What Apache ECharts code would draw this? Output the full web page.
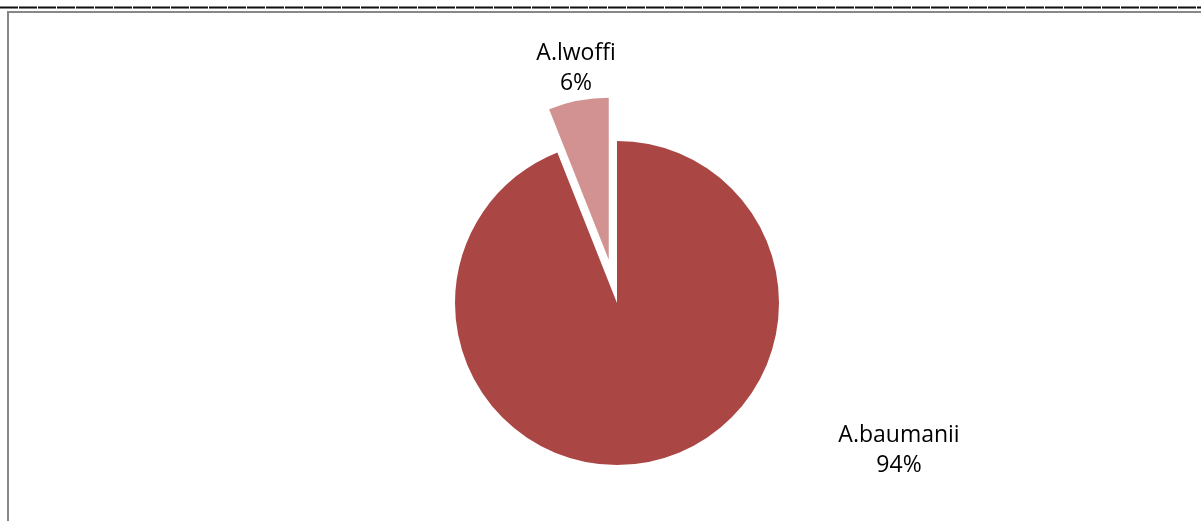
<!DOCTYPE html>
<html><head><meta charset="utf-8">
<script src="https://cdn.jsdelivr.net/npm/echarts@6/dist/echarts.min.js"></script>
<style>html,body{margin:0;padding:0;background:#fff}#c{width:1201px;height:521px}</style>
</head><body><div id="c"></div>
<script>
const categories = ['A.baumanii', 'A.lwoffi'];
const values = [94, 6];
const colors = ['#AA4745', '#D39292'];
const exploded = [false, true];

const chart = echarts.init(document.getElementById('c'));
const CX = 617, CY = 303, R = 162, OFFSET = 44;
const labelPos = [[899, 450], [576, 68]];
const total = values.reduce((a, b) => a + b, 0);

function midAngle(idx) {
  let before = 0;
  for (let i = 0; i < idx; i++) before += values[i];
  return (before + values[idx] / 2) / total * 2 * Math.PI; // clockwise from top
}

const series = categories.map((_, vis) => {
  const off = exploded[vis] ? OFFSET : 0;
  const a = midAngle(vis);
  return {
    type: 'pie',
    silent: true,
    center: [CX + off * Math.sin(a), CY - off * Math.cos(a)],
    radius: [0, R],
    startAngle: 90,
    clockwise: true,
    avoidLabelOverlap: false,
    data: categories.map((n, i) => ({
      name: n, value: values[i],
      itemStyle: { color: i === vis ? colors[i] : 'rgba(0,0,0,0)' },
      label: { show: i === vis }
    })),
    label: {
      position: 'outside',
      formatter: p => p.name + '\n' + Math.round(p.percent) + '%',
      fontFamily: 'Open Sans',
      fontSize: 23,
      lineHeight: 30,
      color: '#000'
    },
    labelLine: { show: false },
    labelLayout: p => ({ x: labelPos[p.dataIndex][0], y: labelPos[p.dataIndex][1], align: 'center', verticalAlign: 'middle' }),
    emphasis: { disabled: true }
  };
});

chart.setOption({
  animation: false,
  graphic: [
    { type: 'line', shape: { x1: 0, y1: 7.5, x2: 1201, y2: 7.5 }, style: { stroke: '#111', lineWidth: 2, lineDash: [18, 1] } },
    { type: 'rect', shape: { x: 8, y: 12, width: 1300, height: 600 }, style: { fill: 'none', stroke: '#878787', lineWidth: 2 } }
  ],
  series: series
});
</script></body></html>
